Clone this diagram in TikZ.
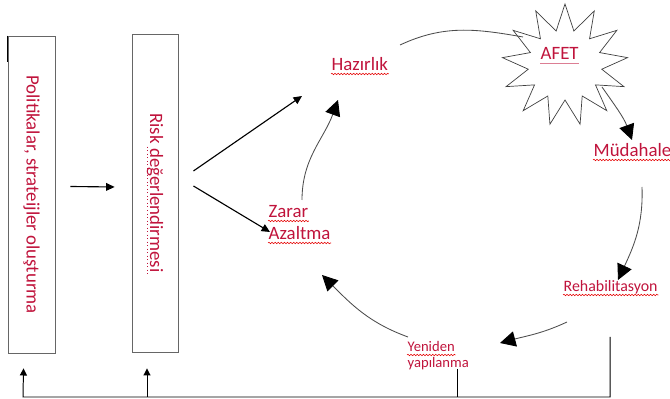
\documentclass[tikz,border=0pt]{standalone}
\usepackage{fontspec}
\setmainfont{Carlito}
\usetikzlibrary{positioning}
\usetikzlibrary{arrows.meta, shapes.symbols, decorations.pathmorphing}
\definecolor{PhaseRed}{HTML}{C0143C}
\tikzset{
	phase/.style={ % labels of the disaster cycle
			text=PhaseRed,
			font=\fontsize{13.4}{16}\selectfont,
			inner sep=1pt
		},
	small/.style={font=\fontsize{11.3}{14}\selectfont},
	smaller/.style={font=\fontsize{10.4}{12.5}\selectfont},
	bar/.style={draw=gray!80!black, semithick},
	burst/.style={
			starburst, draw=black!75, line width=0.5pt,
			starburst points=13, starburst point height=0.65cm,
			minimum width=3.15cm, minimum height=3.05cm, random starburst=0
		},
	spell/.style={draw=red!90!black, line width=0.4pt,
			decorate, decoration={snake, amplitude=0.5pt, segment length=2.2pt}},
	phasearc/.style={draw=gray!60!black, line width=0.6pt, -{Triangle[length=11pt,width=11pt,color=black]}},
	plainarc/.style={draw=gray!60!black, line width=0.6pt},
	push/.style={draw, line width=0.8pt, -{Triangle[length=6pt,width=5.5pt]}},
	feedback/.style={draw, line width=0.7pt, -{Triangle[length=5pt,width=5pt]}}
}

\begin{document}
\begin{tikzpicture}[x=0.025cm, y=0.025cm]
	\useasboundingbox (0,0) rectangle (670,399);
	% Boxes
	\node (pol) [bar, minimum width=1.175cm, minimum height=7.925cm] at (31.5,204.5) {};
	\node (poltext) [phase, rotate=-90] at (pol) {Politikalar, strateijler oluşturma};
	\node (risk) [bar, minimum width=1.15cm, minimum height=7.95cm] at (155,206) {};
	\node (risktext) [phase, rotate=-90] at (risk) {Risk değerlendirmesi};
	\draw[line width=1.2pt] (pol.north west) -- ([shift={(0,-26)}]pol.north west);
	\draw[PhaseRed, dotted, line width=0.5pt] ([shift={(-3,-35)}]risktext.base west) -- ([shift={(-3,0)}]risktext.base east);

	% Nodes
	\node (hazir) [phase, anchor=base west] at (330,328) {Hazırlık};
	\node (burst) [burst] at (565,334) {};
	\node (afet) [phase, anchor=base west] at (539,339) {AFET};
	\node (mudahale) [phase, anchor=base west] at (592,242) {Müdahale};
	\node (rehab) [phase, small, anchor=base west] at (562,107) {Rehabilitasyon};
	\node (yeniden) [phase, smaller, anchor=base west] at (406,47) {Yeniden};
	\node (yapilanma) [phase, smaller, anchor=base west] at (406,31) {yapılanma};
	\node (zarar) [phase, anchor=base west] at (267,181) {Zarar};
	\node (azaltma) [phase, anchor=base west] at (267,159) {Azaltma};

	% Underlines
	\foreach \n in {hazir,mudahale,rehab,yeniden,zarar,azaltma}
		\draw[spell] ([shift={(1,-3)}]\n.base west) -- ([shift={(-1,-3)}]\n.base east);
	\draw[PhaseRed!55, line width=0.6pt] ([shift={(1,-3)}]afet.base west) -- ([shift={(-1,-3)}]afet.base east);

	% Cycle
	\draw[phasearc] ([shift={(35,18)}]zarar.base west) to[out=90, in=-110] ([shift={(8,-29)}]hazir.base west);
	\draw[plainarc] ([shift={(70,26)}]hazir.base west) to[out=25, in=170] ([shift={(-42,28)}]burst.center);
	\draw[phasearc] ([shift={(37,-22)}]burst.center) to[out=-55, in=110] ([shift={(40,17)}]mudahale.base west);
	\draw[phasearc] ([shift={(50,-30)}]mudahale.base west) to[out=-88, in=65] ([shift={(56,12)}]rehab.base west);
	\draw[phasearc] ([shift={(5,-30)}]rehab.base west) to[out=-155, in=15] ([shift={(94,9)}]yeniden.base west);
	\draw[phasearc] ([shift={(2,15)}]yeniden.base west) to[out=160, in=-45] ([shift={(55,-35)}]azaltma.base west);

	% Arrows from the boxes
	\draw[push] ([shift={(15,8)}]pol.east) -- ([shift={(-17,6)}]risk.west);
	\draw[push] ([shift={(15,22)}]risk.east) -- ([shift={(-28,-25)}]hazir.base west);
	\draw[push] ([shift={(15,7)}]risk.east) -- ([shift={(3,8)}]azaltma.base west);

	% Feedback
	\draw[feedback] ([shift={(48,-45)}]rehab.base west) |- (23,2) -- ([shift={(-8,-15)}]pol.south);
	\draw[feedback] (147,2) -- ([shift={(-8,-16)}]risk.south);
	\draw[line width=0.7pt] ([shift={(51,-1)}]yapilanma.base west) -- ([shift={(51,0)}]yapilanma.base west |- 0,2);
\end{tikzpicture}
\end{document}
